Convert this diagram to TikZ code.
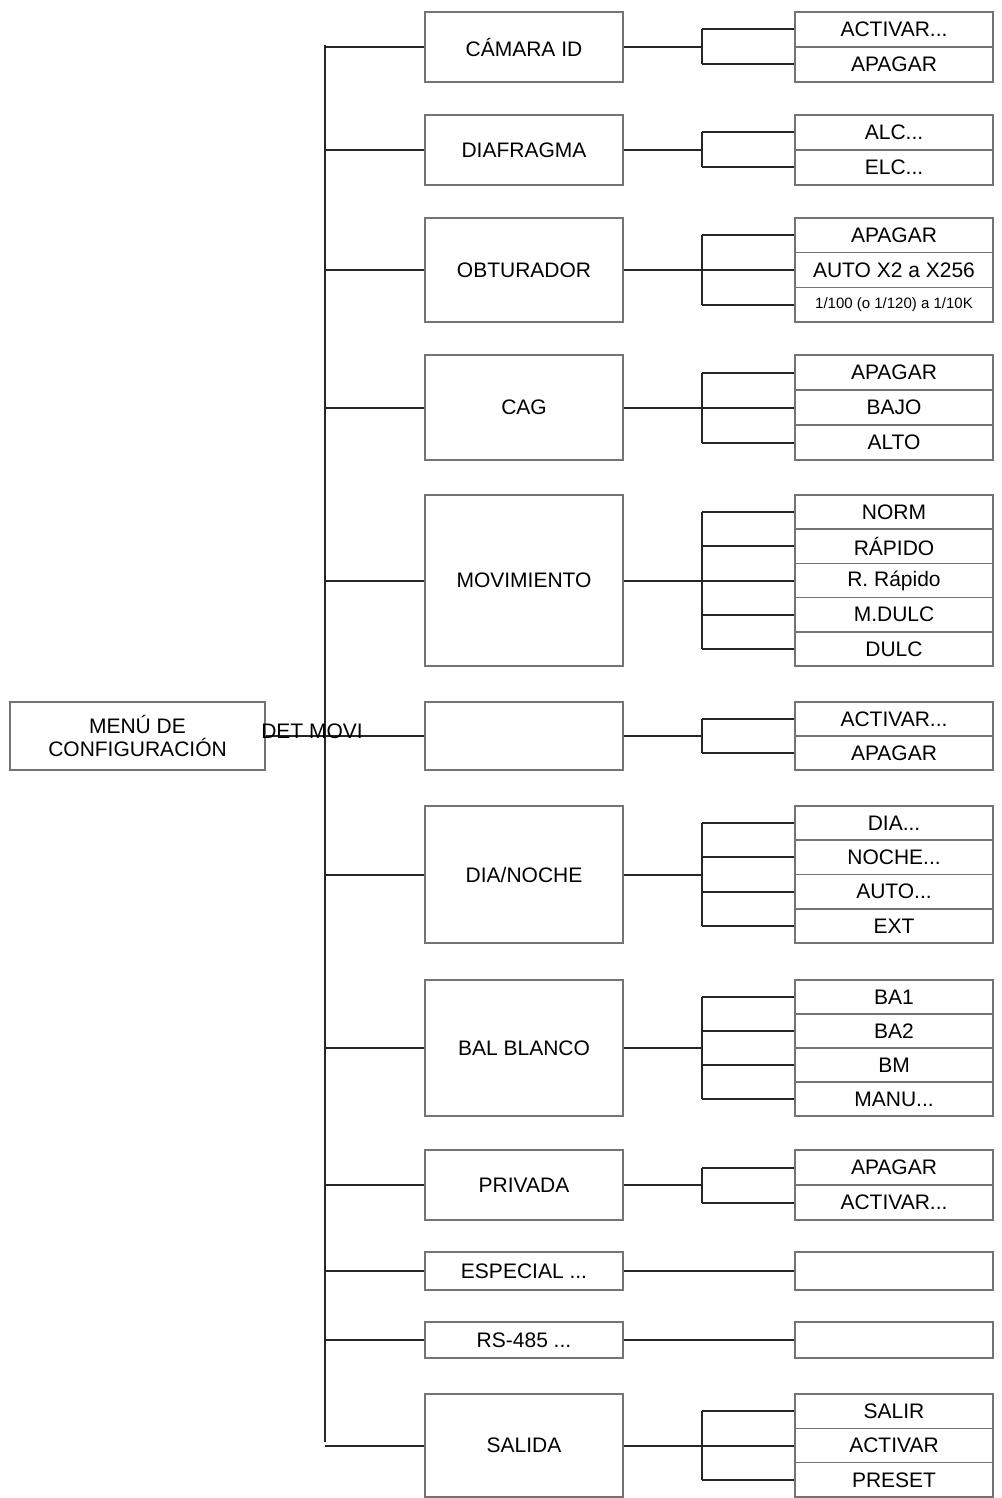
\documentclass[tikz,border=0pt]{standalone}
\usepackage{fontspec}
\setmainfont{Liberation Sans}
\newcommand\tdots{...}
\tikzset{
  bx/.style={draw=black!55, line width=1.6pt, fill=white, inner sep=0pt, font=\fontsize{21}{23}\selectfont},
  lbox/.style={bx, minimum width=198pt},
  rbox/.style={bx, minimum width=198pt},
  conn/.style={draw=black!85, line width=2pt}
}
\newcommand\grp[6]{%
  \pgfmathsetmacro\hh{(#3-#2)}%
  \pgfmathsetmacro\hr{(#3-#2)/#5}%
  \node[lbox, minimum height=\hh pt] (#1) at (524,{(#2+#3)/2}) {#4};
  \draw[conn] (#1.west -| trunk) -- (#1.west);
  \coordinate (#1b) at (702,{(#2+#3)/2});
  \draw[conn] (#1.east) -- (#1b);
  \draw[conn] (702,{#2+0.5*\hr}) -- (702,{#3-0.5*\hr});
  \foreach \t [count=\i] in {#6} {
    \node[rbox, minimum height=\hr pt] (#1r\i) at (894,{#2+(\i-0.5)*\hr}) {\t};
    \draw[conn] (#1r\i.west -| #1b) -- (#1r\i.west);
  }
}
\begin{document}
\begin{tikzpicture}[x=1pt,y=-1pt]
\useasboundingbox (0,0) rectangle (1001,1498);
\coordinate (trunk) at (325,0);
\coordinate (ttop) at (325,45);
\coordinate (tbot) at (325,1442);
\draw[conn] (ttop) -- (tbot);
\node[lbox, minimum width=255pt, minimum height=68pt, align=center] (root) at (137.5,736) {MENÚ DE\\CONFIGURACIÓN};
\draw[conn] (root.east) -- (root.east -| trunk);
\grp{a}{12}{82}{CÁMARA ID}{2}{ACTIVAR\tdots,APAGAR}
\grp{b}{115}{185}{DIAFRAGMA}{2}{ALC\tdots,ELC\tdots}
\grp{c}{218}{322}{OBTURADOR}{3}{APAGAR,AUTO X2 a X256,{\fontsize{15}{16}\selectfont 1/100 (o 1/120) a 1/10K}}
\grp{d}{355}{460}{CAG}{3}{APAGAR,BAJO,ALTO}
\grp{e}{495}{666}{MOVIMIENTO}{5}{NORM,RÁPIDO,R. Rápido,M.DULC,DULC}
\grp{f}{702}{770}{}{2}{ACTIVAR\tdots,APAGAR}
\node[font=\fontsize{21}{23}\selectfont] (detmovi) at (312,731) {DET MOVI};
\grp{g}{806}{943}{DIA/NOCHE}{4}{DIA\tdots,NOCHE\tdots,AUTO\tdots,EXT}
\grp{h}{980}{1116}{BAL BLANCO}{4}{BA1,BA2,BM,MANU\tdots}
\grp{i}{1150}{1220}{PRIVADA}{2}{APAGAR,ACTIVAR\tdots}
\node[lbox, minimum height=38pt] (j) at (524,1271) {ESPECIAL \tdots};
\draw[conn] (j.west -| trunk) -- (j.west);
\node[rbox, minimum height=38pt] (jr) at (894,1271) {};
\draw[conn] (j.east) -- (jr.west);
\node[lbox, minimum height=36pt] (k) at (524,1340) {RS-485 \tdots};
\draw[conn] (k.west -| trunk) -- (k.west);
\node[rbox, minimum height=36pt] (kr) at (894,1340) {};
\draw[conn] (k.east) -- (kr.west);
\grp{l}{1394}{1497}{SALIDA}{3}{SALIR,ACTIVAR,PRESET}
\end{tikzpicture}
\end{document}
